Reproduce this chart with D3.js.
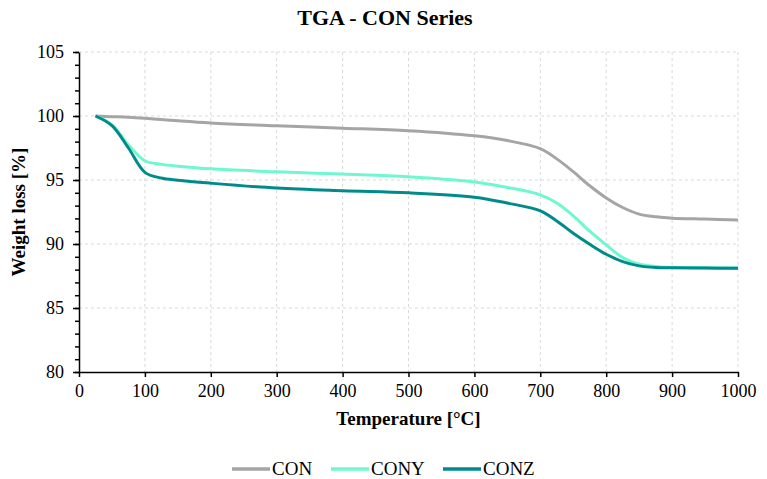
<!DOCTYPE html>
<html>
<head>
<meta charset="utf-8">
<script src="https://cdn.jsdelivr.net/npm/d3@7"></script>
<style>
  body { margin: 0; background: #fff; }
  svg text { font-family: "Liberation Serif", "Times New Roman", serif; fill: #000; }
</style>
</head>
<body>
<div id="canvas"></div>
<script>
// temperatures (°C) the curves were read at
const temps = [25, 50, 75, 100, 125, 150, 200, 300, 400, 500, 600, 650, 700, 725, 750, 775, 800, 825, 850, 875, 900, 950, 1000];

const con  = [100, 99.95, 99.9, 99.82, 99.72, 99.62, 99.45, 99.23, 99.05, 98.85, 98.45, 98.08, 97.45, 96.65, 95.65, 94.55, 93.6, 92.85, 92.33, 92.12, 92.02, 91.95, 91.88];
const cony = [100, 99.3, 97.75, 96.5, 96.22, 96.08, 95.87, 95.64, 95.46, 95.25, 94.84, 94.42, 93.84, 93.2, 92.2, 91.0, 89.93, 88.94, 88.42, 88.24, 88.18, 88.15, 88.12];
const conz = [100, 99.25, 97.5, 95.6, 95.15, 94.98, 94.75, 94.37, 94.16, 94.0, 93.66, 93.2, 92.59, 91.8, 90.84, 89.98, 89.2, 88.62, 88.29, 88.16, 88.14, 88.12, 88.1];

const seriesNames = ["CON", "CONY", "CONZ"];
const seriesColors = ["#a5a5a5", "#6ff8cf", "#008b8b"];

const xTicks = [0, 100, 200, 300, 400, 500, 600, 700, 800, 900, 1000];
const yTicks = [80, 85, 90, 95, 100, 105];
const yMinor = d3.range(80, 106, 1);

const width = 767;
const height = 479;
const margin = { top: 52, left: 79, bottom: 107, right: 29 };
const iwidth = width - margin.left - margin.right;
const iheight = height - margin.top - margin.bottom;
const serif = "'Liberation Serif', 'Times New Roman', serif";

const svg = d3.select("#canvas").append("svg")
    .attr("width", width)
    .attr("height", height)
    .attr("font-family", serif);

const g = svg.append("g").attr("transform", `translate(${margin.left},${margin.top})`);

const x = d3.scaleLinear().domain([0, 1000]).range([0, iwidth]);
const y = d3.scaleLinear().domain([80, 105]).range([iheight, 0]);

// grid
g.append("g").selectAll("line").data(xTicks.slice(1)).enter().append("line")
    .attr("x1", d => x(d)).attr("x2", d => x(d))
    .attr("y1", 0).attr("y2", iheight)
    .attr("stroke", "#d9d9d9").attr("stroke-dasharray", "3,3");
g.append("g").selectAll("line").data(yTicks.slice(1)).enter().append("line")
    .attr("x1", 0).attr("x2", iwidth)
    .attr("y1", d => y(d)).attr("y2", d => y(d))
    .attr("stroke", "#d9d9d9").attr("stroke-dasharray", "3,3");

// lines
const series = [con, cony, conz];
const line = d3.line()
    .x((d, i) => x(temps[i]))
    .y(d => y(d))
    .curve(d3.curveCatmullRom.alpha(0.5));

series.forEach((s, k) => {
    g.append("path")
        .datum(s)
        .attr("fill", "none")
        .attr("stroke", seriesColors[k])
        .attr("stroke-width", 3)
        .attr("d", line);
});

// axes
g.append("g")
    .call(d3.axisLeft(y).tickValues(yMinor).tickSize(4).tickFormat(""))
    .call(a => a.select(".domain").remove())
    .selectAll("line").attr("stroke", "#000").attr("stroke-width", 1.5);

g.append("g")
    .call(d3.axisLeft(y).tickValues(yTicks).tickSize(6).tickPadding(9).tickSizeOuter(0))
    .attr("font-family", serif).attr("font-size", 18)
    .call(a => a.select(".domain").attr("stroke-width", 1.5))
    .call(a => a.selectAll("line").attr("stroke-width", 1.5));

g.append("g")
    .attr("transform", `translate(0,${iheight})`)
    .call(d3.axisBottom(x).tickValues(xTicks).tickFormat(d3.format("d")).tickSize(5).tickPadding(7).tickSizeOuter(0))
    .attr("font-family", serif).attr("font-size", 18)
    .call(a => a.select(".domain").attr("stroke-width", 1.5))
    .call(a => a.selectAll("line").attr("stroke-width", 1.5));

// titles
svg.append("text")
    .attr("x", 385).attr("y", 25)
    .attr("text-anchor", "middle")
    .style("font-size", "22px").style("font-weight", "bold")
    .text("TGA - CON Series");

svg.append("text")
    .attr("x", margin.left + iwidth / 2).attr("y", 425)
    .attr("text-anchor", "middle")
    .style("font-size", "19px").style("font-weight", "bold")
    .text("Temperature [°C]");

svg.append("text")
    .attr("transform", `translate(25,${margin.top + iheight / 2}) rotate(-90)`)
    .attr("text-anchor", "middle")
    .style("font-size", "19px").style("font-weight", "bold")
    .text("Weight loss [%]");

// legend
const legendX = [232, 331, 443];
seriesNames.forEach((n, k) => {
    svg.append("line")
        .attr("x1", legendX[k]).attr("x2", legendX[k] + 38)
        .attr("y1", 469).attr("y2", 469)
        .attr("stroke", seriesColors[k]).attr("stroke-width", 3.5);
    svg.append("text")
        .attr("x", legendX[k] + 40).attr("y", 475)
        .style("font-size", "19px")
        .text(n);
});
</script>
</body>
</html>
